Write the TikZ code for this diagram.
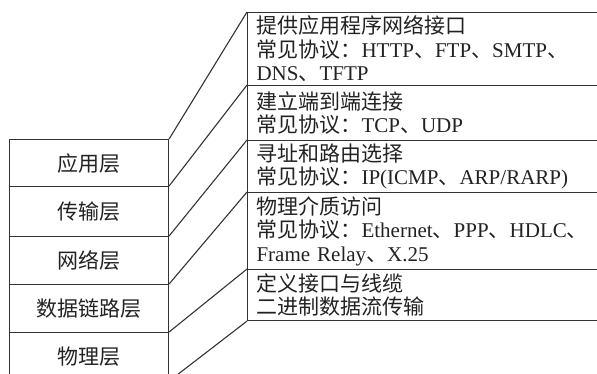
\documentclass[tikz,border=0pt]{standalone}
\usepackage{fontspec}
\setmainfont{Liberation Serif}
\newfontfamily\cjk{Noto Sans CJK SC}
\definecolor{ln}{HTML}{333333}
\definecolor{tx}{HTML}{222222}
\begin{document}
\begin{tikzpicture}[x=1pt,y=-1pt,
  lbox/.style={draw=ln, line width=1.1pt, anchor=north west, minimum width=159pt,
    inner sep=0pt, text=tx, font=\fontsize{21}{23.5}\selectfont\cjk},
  rbox/.style={draw=ln, line width=1.1pt, anchor=north west, text width=342pt,
    inner xsep=9pt, inner ysep=0pt, align=left, text=tx,
    font=\fontsize{21}{23.5}\selectfont},
  conn/.style={draw=ln, line width=1.1pt}]
\useasboundingbox (0,0) rectangle (597,373);
\clip (0,0) rectangle (597,373);
% left stack
\node[lbox, minimum height=47pt] (L1) at (9,139) {应用层};
\node[lbox, minimum height=50pt] (L2) at (9,186) {传输层};
\node[lbox, minimum height=48pt] (L3) at (9,236) {网络层};
\node[lbox, minimum height=48pt] (L4) at (9,284) {数据链路层};
\node[lbox, minimum height=48pt] (L5) at (9,332) {物理层};
% right panels
\node[rbox, minimum height=73pt] (R1) at (247,12)
  {{\cjk 提供应用程序网络接口}\\{\cjk 常见协议：}HTTP{\cjk 、}FTP{\cjk 、}SMTP{\cjk 、}\\DNS{\cjk 、}TFTP};
\node[rbox, minimum height=55pt] (R2) at (247,85)
  {{\cjk 建立端到端连接}\\{\cjk 常见协议：}TCP{\cjk 、}UDP};
\node[rbox, minimum height=52pt] (R3) at (247,140)
  {{\cjk 寻址和路由选择}\\{\cjk 常见协议：}IP(ICMP{\cjk 、}ARP/RARP)};
\node[rbox, minimum height=77pt] (R4) at (247,192)
  {{\cjk 物理介质访问}\\{\cjk 常见协议：}Ethernet{\cjk 、}PPP{\cjk 、}HDLC{\cjk 、}\\Frame Relay{\cjk 、}X.25};
\node[rbox, minimum height=51pt] (R5) at (247,269)
  {{\cjk 定义接口与线缆}\\{\cjk 二进制数据流传输}};
% connectors
\draw[conn] (L1.north east) -- (R1.north west);
\draw[conn] (L2.north east) -- (R2.north west);
\draw[conn] (L3.north east) -- (R3.north west);
\draw[conn] (L4.north east) -- (R4.north west);
\draw[conn] (L5.north east) -- (R5.north west);
\draw[conn] (L5.south east) -- (R5.south west);
\end{tikzpicture}
\end{document}
